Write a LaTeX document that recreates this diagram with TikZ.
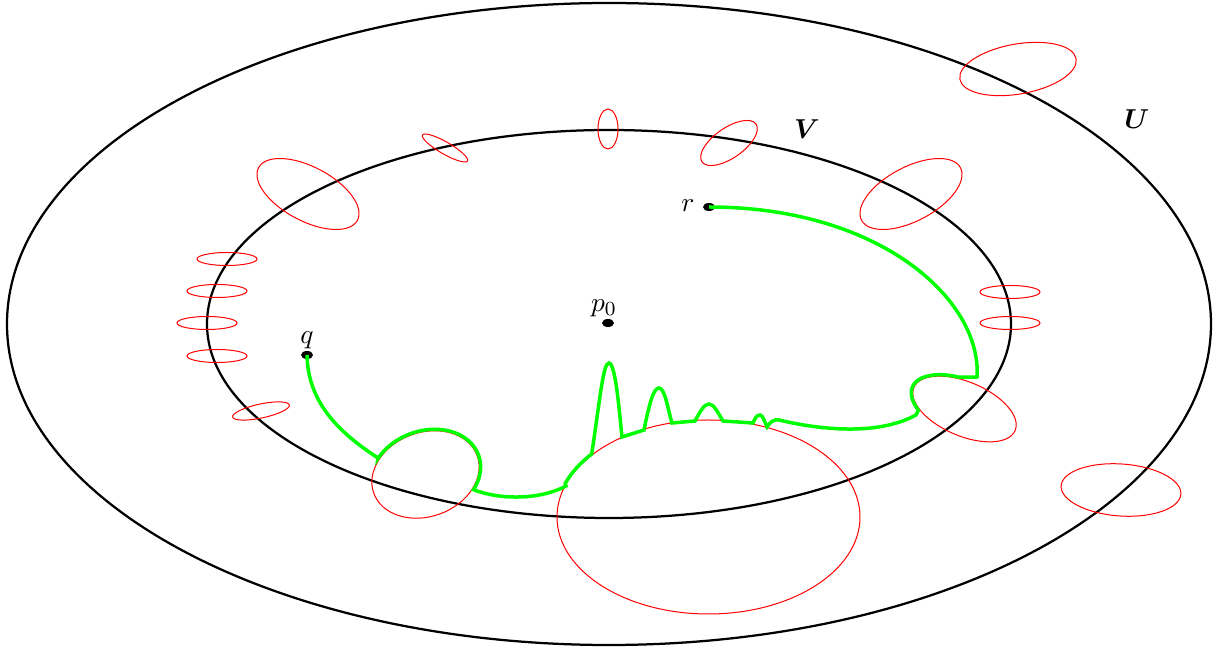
\documentclass[tikz,border=0pt]{standalone}
\usepackage{amsmath}
\usepackage{bm}
\usetikzlibrary{positioning}

\begin{document}
\begin{tikzpicture}[
    x=0.4pt, y=-0.4pt,
    region/.style={draw=black, line width=0.9pt},
    chart/.style={draw=red, line width=0.4pt},
    greenpath/.style={draw=green, line width=1.4pt},
    dot/.style={fill=black},
    lbl/.style={inner sep=1pt, font=\fontsize{11}{13}\selectfont}
]
\useasboundingbox (0,0) rectangle (1222,651);

% regions
\draw[region] (609,324) ellipse [x radius=602, y radius=321];
\draw[region] (609,324) ellipse [x radius=402, y radius=194];
\node[lbl] (labV) at (807,129) {$\bm{V}$};
\node[lbl] (labU) at (1137,119) {$\bm{U}$};

% small charts
\draw[chart, rotate around={10:(1018,69)}] (1018,69) ellipse [x radius=59, y radius=25];
\draw[chart, rotate around={-4:(1121,490)}] (1121,490) ellipse [x radius=60, y radius=26];
\draw[chart] (608,129) ellipse [x radius=10, y radius=20];
\draw[chart, rotate around={-30:(445,148)}] (445,148) ellipse [x radius=26, y radius=6];
\draw[chart, rotate around={35:(729,143)}] (729,143) ellipse [x radius=33, y radius=15];
\draw[chart, rotate around={-28:(308,194)}] (308,194) ellipse [x radius=56, y radius=27];
\draw[chart, rotate around={28:(911,194)}] (911,194) ellipse [x radius=56, y radius=27];
\draw[chart] (227,259) ellipse [x radius=30, y radius=6.5];
\draw[chart] (217,291) ellipse [x radius=30, y radius=6.5];
\draw[chart] (207,323) ellipse [x radius=30, y radius=6.5];
\draw[chart] (217,356) ellipse [x radius=30, y radius=6.5];
\draw[chart] (1010,292) ellipse [x radius=30, y radius=6.5];
\draw[chart] (1010,323) ellipse [x radius=30, y radius=6.5];
\draw[chart, rotate around={12:(261,411)}] (261,411) ellipse [x radius=29, y radius=7];

% charts on the path
\draw[chart, rotate around={20:(425.5,474.5)}] (425.5,474.5) ellipse [x radius=55, y radius=42];
\draw[chart] (708.5,517) ellipse [x radius=151.5, y radius=97];
\draw[chart, rotate around={-23:(964.5,409)}] (964.5,409) ellipse [x radius=55, y radius=27];

% points
\coordinate (p0) at (608,323);
\coordinate (q) at (307,355);
\coordinate (r) at (709,207);
\fill[dot] (p0) ellipse [x radius=6, y radius=4];
\fill[dot] (q) ellipse [x radius=6, y radius=4];
\fill[dot] (r) ellipse [x radius=6, y radius=4];
\node[lbl] (labp) at (604,308) {$p_0$};
\node[lbl] (labq) at (307,340) {$q$};
\node[lbl] (labr) at (688,206) {$r$};

% the path from q to r
\draw[greenpath] (q) .. controls (308,400) and (335,430) .. (378,458)
    -- plot[domain=134:-45, samples=40, variable=\t]
       ({425.5+56.5*cos(\t)*cos(20)-43.5*sin(\t)*sin(20)},
        {474.5-56.5*cos(\t)*sin(20)-43.5*sin(\t)*cos(20)})
    .. controls (500,500) and (540,500) .. (566,486)
    -- plot[domain=160:140, samples=12, variable=\t]
       ({708.5+152.5*cos(\t)}, {517-98*sin(\t)})
    .. controls (600,400) and (603,363) .. (609,363)
    .. controls (616,363) and (620,420) .. (622,437)
    -- (644,430)
    .. controls (650,400) and (654,388) .. (659,388)
    .. controls (665,388) and (668,410) .. (672,423)
    -- (695,421)
    .. controls (700,412) and (704,404) .. (709,404)
    .. controls (714,404) and (718,413) .. (723,421)
    -- (753,423)
    .. controls (755,418) and (757,415) .. (760,415)
    .. controls (763,415) and (765,423) .. (767,427)
    .. controls (770,422) and (774,419) .. (779,420)
    .. controls (800,425) and (870,440) .. (916,415)
    -- plot[domain=222:108, samples=40, variable=\t]
       ({964.5+56.5*cos(\t)*cos(-23)-28.5*sin(\t)*sin(-23)},
        {409-56.5*cos(\t)*sin(-23)-28.5*sin(\t)*cos(-23)})
    -- (977,377)
    .. controls (982,300) and (880,207) .. (r);

\end{tikzpicture}
\end{document}
